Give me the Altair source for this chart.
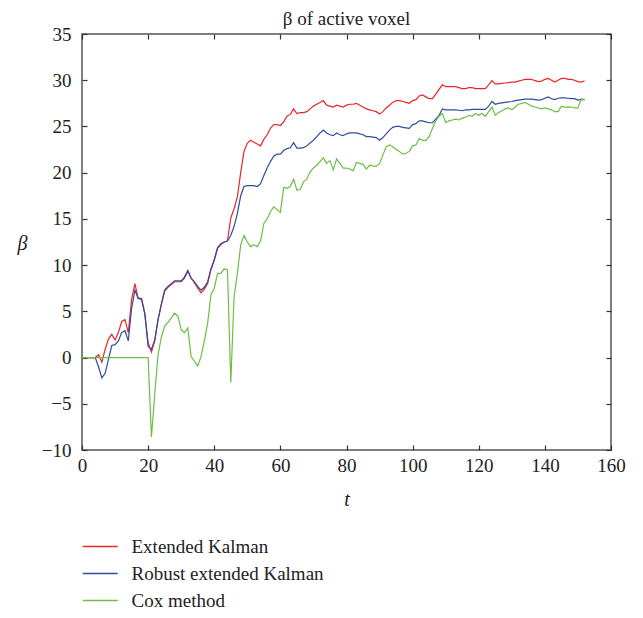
import altair as alt
import pandas as pd

SERIF = "Liberation Serif"

names = ["Extended Kalman", "Robust extended Kalman", "Cox method"]
colors = ["#E8262B", "#2F4D9E", "#6CBF43"]

t = list(range(0, 153))

extended = [
    0, 0, 0, 0, 0, 0.3, -0.5, 0.9, 2.0, 2.5,
    1.9, 2.7, 3.9, 4.1, 2.7, 6.3, 8.0, 6.4, 6.4, 4.8,
    1.6, 0.6, 1.8, 4.1, 5.7, 7.2, 7.6, 7.9, 8.2, 8.2,
    8.2, 8.6, 9.4, 8.6, 8.1, 7.5, 7.0, 7.4, 8.0, 9.5,
    10.5, 11.8, 12.2, 12.5, 12.6, 15.1, 16.1, 17.4, 20.0, 22.3,
    23.2, 23.5, 23.3, 23.1, 22.9, 23.6, 24.1, 24.8, 25.2, 25.2,
    25.1, 25.5, 26.1, 26.3, 26.9, 26.4, 26.5, 26.5, 26.6, 26.9,
    27.2, 27.4, 27.6, 27.8, 27.3, 27.2, 27.1, 27.3, 27.2, 27.1,
    27.3, 27.4, 27.4, 27.5, 27.3, 27.1, 26.9, 26.8, 26.7, 26.6,
    26.35, 26.6, 27.0, 27.3, 27.6, 27.8, 27.8, 27.7, 27.6, 27.5,
    27.8, 27.9, 28.3, 28.4, 28.2, 28.0, 28.0, 28.5, 29.0, 29.5,
    29.3, 29.3, 29.3, 29.3, 29.2, 29.1, 29.1, 29.2, 29.2, 29.1,
    29.1, 29.1, 29.1, 29.5, 29.95, 29.6, 29.6, 29.65, 29.7, 29.75,
    29.8, 29.8, 29.9, 30.0, 30.1, 30.1, 30.1, 29.95, 29.85, 29.9,
    30.1, 30.2, 30.0, 29.8, 30.0, 30.2, 30.2, 30.1, 30.1, 30.0,
    29.85, 29.8, 29.95,
]

robust = [
    0, 0, 0, 0, 0, -1.0, -2.2, -1.7, -0.2, 1.3,
    1.4, 1.8, 2.7, 2.9, 1.8, 5.3, 7.3, 6.4, 6.3, 4.7,
    1.2, 0.9, 1.9, 4.1, 5.8, 7.3, 7.7, 8.0, 8.3, 8.3,
    8.3, 8.7, 9.4, 8.6, 8.2, 7.7, 7.3, 7.6, 8.2, 9.6,
    10.6, 11.9, 12.3, 12.5, 12.6, 13.2, 14.2, 15.6, 17.5, 18.5,
    18.6, 18.6, 18.6, 18.5, 18.8, 19.7, 20.5, 21.2, 21.8, 22.0,
    22.0, 22.4, 22.6, 22.7, 23.25, 22.65, 22.65, 22.7, 22.9, 23.2,
    23.5, 23.9, 24.3, 24.6, 24.3, 24.1, 24.0, 24.3, 24.1, 24.0,
    24.2, 24.3, 24.3, 24.3, 24.2, 24.1, 23.9, 23.9, 23.85, 23.8,
    23.5, 23.8, 24.2, 24.6, 24.9, 25.0, 25.0, 24.9, 24.85, 24.8,
    25.2, 25.3, 25.6, 25.6, 25.5, 25.4, 25.4, 25.8, 26.2, 26.9,
    26.8, 26.8, 26.8, 26.8, 26.75, 26.7, 26.8, 26.8, 26.85, 26.85,
    26.85, 26.85, 26.85, 27.2, 27.7, 27.4, 27.5, 27.55, 27.6, 27.65,
    27.7, 27.8, 27.85, 27.9, 27.95, 27.95, 27.95, 27.9, 27.85, 27.9,
    28.05, 28.2, 28.0, 27.9, 28.05, 28.1, 28.1, 28.05, 28.0, 28.0,
    27.85, 27.9, 27.9,
]

cox = [
    0, 0, 0, 0, 0, 0, 0, 0, 0, 0,
    0, 0, 0, 0, 0, 0, 0, 0, 0, 0,
    0, -8.6, -4.0, 0.3, 2.2, 3.4, 3.8, 4.3, 4.8, 4.5,
    3.0, 2.7, 3.2, 0.1, -0.4, -0.9, 0.1, 1.8, 3.7, 6.8,
    7.5, 9.1, 9.1, 9.6, 9.5, -2.7, 6.6, 9.1, 12.2, 13.2,
    12.5, 12.0, 12.2, 12.0, 12.6, 14.5, 15.0, 15.8, 16.3, 16.0,
    15.7, 18.4, 18.3, 18.5, 19.3, 18.1, 18.2, 19.0, 19.3, 20.1,
    20.5, 20.8, 21.2, 21.6, 21.0, 21.3, 20.3, 21.5, 21.0, 20.5,
    20.5, 20.4, 20.2, 21.1, 21.0, 20.9, 20.4, 20.8, 20.7, 20.7,
    21.0, 21.9, 22.8, 23.0, 22.8, 22.5, 22.3, 22.0, 22.1, 22.3,
    22.9, 23.0, 23.7, 23.5, 23.5, 23.9, 24.8, 25.6, 26.1, 26.4,
    25.4, 25.6, 25.7, 25.8, 25.7, 25.9, 26.0, 26.2, 26.1, 26.4,
    26.2, 26.4, 26.1, 26.6, 27.1, 26.2, 26.5, 26.7, 26.9, 27.0,
    26.8, 27.1, 27.4, 27.5, 27.6, 27.4, 27.2, 27.1, 27.0, 26.9,
    27.0, 26.9, 26.8, 26.6, 26.6, 27.2, 27.1, 27.1, 27.1, 27.0,
    27.0, 28.0, 27.9,
]

x_ticks = [0, 20, 40, 60, 80, 100, 120, 140, 160]
y_ticks = [-10, -5, 0, 5, 10, 15, 20, 25, 30, 35]

n = len(t)
df = pd.DataFrame({
    "t": t * 3,
    "beta": extended + robust + cox,
    "series": [names[0]] * n + [names[1]] * n + [names[2]] * n,
})

xscale = alt.Scale(domain=[0, 160], nice=False, zero=False)
yscale = alt.Scale(domain=[-10, 35], nice=False, zero=False)

tick_style = dict(
    offset=-5, tickSize=5, domain=False, grid=False,
    tickColor="#333", tickWidth=1.2,
)
label_style = dict(
    labelFont=SERIF, labelFontSize=19, labelColor="#222", labelFlush=False,
)

lines = alt.Chart(df).mark_line(strokeWidth=1.2, clip=True).encode(
    x=alt.X("t:Q", scale=xscale,
            axis=alt.Axis(values=x_ticks, title="t", titleFont=SERIF,
                          titleFontSize=20, titleFontStyle="italic",
                          titleFontWeight="normal", titleColor="#222",
                          labelPadding=6, titlePadding=14,
                          **tick_style, **label_style)),
    y=alt.Y("beta:Q", scale=yscale,
            axis=alt.Axis(values=y_ticks, title="β", titleFont=SERIF,
                          titleFontSize=20, titleFontStyle="italic",
                          titleFontWeight="normal", titleColor="#222",
                          titleAngle=0, titleAlign="center", titleBaseline="middle",
                          titleX=-65, titleY=209,
                          labelPadding=11, **tick_style, **label_style)),
    color=alt.Color("series:N", scale=alt.Scale(domain=names, range=colors),
                    legend=alt.Legend(orient="none", legendX=8.75, legendY=503,
                                      title=None, symbolType="M-2,0H2",
                                      symbolSize=306, symbolStrokeWidth=1.5,
                                      labelFont=SERIF, labelFontSize=19,
                                      labelColor="#222", labelOffset=21.75,
                                      labelLimit=500,
                                      rowPadding=7, padding=0)),
)

frame_axes = alt.Chart(df).mark_line(opacity=0).encode(
    x=alt.X("t:Q", scale=xscale,
            axis=alt.Axis(orient="top", values=x_ticks, labels=False, title=None,
                          **tick_style)),
    y=alt.Y("beta:Q", scale=yscale,
            axis=alt.Axis(orient="right", values=y_ticks, labels=False, title=None,
                          **tick_style)),
)

chart = alt.layer(lines, frame_axes).resolve_axis(
    x="independent", y="independent"
).properties(
    width=529, height=416,
    padding={"left": 74, "top": 26, "right": 24, "bottom": 160},
    autosize=alt.AutoSizeParams(type="none"),
    title=alt.TitleParams("β of active voxel", font=SERIF, fontSize=19,
                          fontWeight="normal", color="#222", anchor="middle",
                          offset=-4),
).configure_view(stroke="#555", strokeWidth=1.5)

chart.save("out.html", embed_options={"renderer": "svg", "actions": False})
